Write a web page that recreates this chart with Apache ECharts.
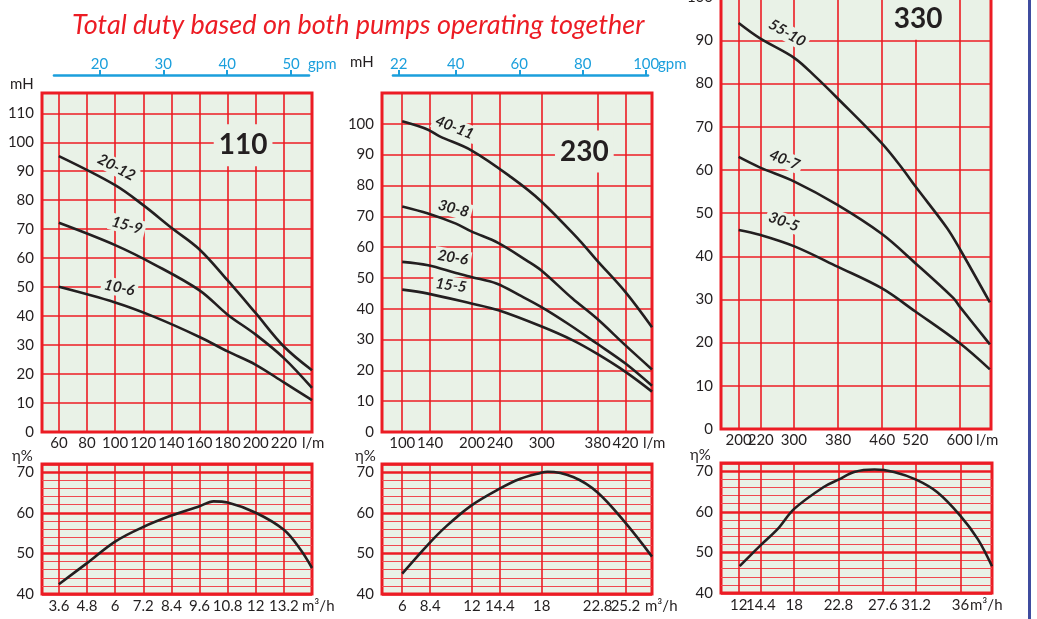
<!DOCTYPE html>
<html>
<head>
<meta charset="utf-8">
<script src="https://cdn.jsdelivr.net/npm/echarts@6/dist/echarts.min.js"></script>
<style>
html, body { margin: 0; padding: 0; background: #fff; }
#chart { width: 1037px; height: 619px; }
</style>
</head>
<body>
<div id="chart"></div>
<script>
// head curves: [l/m, mH]
var h110_20_12 = [[60, 95.2], [100, 85.2], [120, 78.3], [140, 70.5], [160, 63], [180, 52.3], [200, 41], [220, 29.5], [240, 21.3]];
var h110_15_9 = [[60, 72.2], [100, 64.5], [128, 57.8], [160, 48.9], [180, 40.5], [200, 33.6], [220, 25.5], [240, 15.2]];
var h110_10_6 = [[60, 50.1], [100, 44.7], [127, 39.9], [160, 32.8], [180, 27.8], [200, 23.2], [220, 17.1], [240, 11]];

var h230_40_11 = [[100, 100.8], [137, 98.1], [153, 96], [199, 91.4], [256, 82.7], [299, 74.9], [354, 62.2], [379, 55.7], [420, 45.4], [458, 34]];
var h230_30_8 = [[100, 73.2], [137, 70.9], [177, 67.6], [199, 65.1], [238, 61.3], [278, 55.7], [299, 52.5], [344, 43.3], [379, 36.8], [420, 28.1], [458, 20.3]];
var h230_20_6 = [[100, 55.2], [137, 54.1], [177, 51.6], [199, 50.3], [235, 48.2], [268, 44.4], [299, 40.6], [337, 35.2], [379, 28.7], [420, 22.2], [458, 15]];
var h230_15_5 = [[100, 46.2], [137, 44.9], [199, 41.7], [238, 39.5], [299, 34.3], [344, 29.8], [379, 25.4], [420, 19.5], [458, 13.1]];

var h330_55_10 = [[200, 94], [238, 90.5], [301, 85.9], [339, 81.6], [379, 76.6], [459, 66.2], [496, 60.4], [520, 56.2], [577, 46.6], [600, 41.8], [655, 29.3]];
var h330_40_7 = [[200, 63], [238, 60.6], [301, 57.3], [379, 51.9], [459, 45.2], [520, 38.4], [589, 30.3], [600, 28.4], [655, 19.6]];
var h330_30_5 = [[200, 46.1], [238, 45], [301, 42.3], [379, 37.6], [459, 32.6], [520, 27.2], [600, 19.9], [655, 13.8]];

// efficiency curves: [m3/h, %]
var e110 = [[3.6, 42.4], [4.8, 47.6], [6, 52.9], [7.2, 56.5], [8.4, 59.3], [9.6, 61.6], [10.2, 62.8], [10.8, 62.5], [12, 60], [13.2, 55.8], [13.9, 51], [14.4, 46.4]];
var e230 = [[6, 45], [8.2, 52.1], [9.8, 56.7], [11.9, 61.7], [14.3, 65.8], [16.1, 68.3], [17.9, 69.8], [18.5, 70.1], [20.7, 68.8], [22.8, 65], [25.2, 57.5], [27.48, 49.2]];
var e330 = [[12.1, 46.6], [14.3, 51.6], [16.2, 55.7], [18, 60.7], [21.2, 66.1], [22.8, 67.9], [24.5, 69.8], [26.7, 70.4], [28.8, 69.8], [31.2, 67.9], [33.5, 64.8], [36, 59], [37.9, 53.2], [39.42, 46.6]];

// tick values and labels
var lpm110 = [60, 80, 100, 120, 140, 160, 180, 200, 220];
var lpm230 = [100, 140, 200, 240, 300, 380, 420];
var lpm330 = [200, 240, 300, 380, 460, 520, 600];
var lpm330Labels = ['200', '220', '300', '380', '460', '520', '600'];
var cmh110 = [3.6, 4.8, 6, 7.2, 8.4, 9.6, 10.8, 12, 13.2];
var cmh230 = [6, 8.4, 12, 14.4, 18, 22.8, 25.2];
var cmh330 = [12, 14.4, 18, 22.8, 27.6, 31.2, 36];
var gpm110 = [20, 30, 40, 50];
var gpm230 = [22, 40, 60, 80, 100];

var font = 'Lato, "Noto Sans", sans-serif';
var red = '#ec1c24';
var ink = '#231f20';
var paper = '#e9f2e7';
var blue = '#1b9fdc';

function labelText(ticks, labels) {
    return function (v) {
        var i = ticks.indexOf(v);
        return labels && i >= 0 ? labels[i] : String(v);
    };
}

// main flow axis: grid lines on every tick, labels on the inner ticks
function flowAxis(gi, min, max, ticks, labels, unit, gap, pad) {
    return {
        type: 'value', gridIndex: gi, min: min, max: max, position: 'bottom',
        axisLine: {show: false},
        axisTick: {show: false, customValues: ticks},
        axisLabel: {
            customValues: ticks.slice(1, -1), margin: pad, color: ink, fontSize: 15, fontFamily: font,
            hideOverlap: false, showMinLabel: true, showMaxLabel: true,
            formatter: labelText(ticks, labels)
        },
        splitLine: {show: true, lineStyle: {color: red, width: 1.6}},
        name: unit, nameLocation: 'end', nameGap: gap, nameMoveOverlap: false,
        nameTextStyle: {color: ink, fontSize: 15, fontFamily: font, align: 'left', verticalAlign: 'top', padding: [pad, 0, 0, 0]}
    };
}

// second axis on the same grid, only for the first and last labels (v6 hides crowded end labels)
function edgeAxis(gi, min, max, ticks, labels, pad) {
    return {
        type: 'value', gridIndex: gi, min: min, max: max, position: 'bottom',
        axisLine: {show: false},
        axisTick: {show: false, customValues: [ticks[0], ticks[ticks.length - 1]]},
        axisLabel: {
            customValues: [ticks[0], ticks[ticks.length - 1]], margin: pad, color: ink, fontSize: 15, fontFamily: font,
            showMinLabel: true, showMaxLabel: true,
            formatter: labelText(ticks, labels)
        },
        splitLine: {show: false}
    };
}

function gpmAxis(gi, min, max, ticks, gap) {
    return {
        type: 'value', gridIndex: gi, min: min, max: max, position: 'bottom',
        axisLine: {show: true, lineStyle: {color: blue, width: 2.6}},
        axisTick: {show: true, inside: true, length: 5, customValues: ticks, lineStyle: {color: blue, width: 2}},
        axisLabel: {customValues: ticks, inside: true, margin: 3, color: blue, fontSize: 15, fontFamily: font, showMinLabel: true, showMaxLabel: true},
        splitLine: {show: false},
        name: 'gpm', nameLocation: 'end', nameGap: gap, nameMoveOverlap: false,
        nameTextStyle: {color: blue, fontSize: 15, fontFamily: font, align: 'left', verticalAlign: 'bottom', padding: [0, 0, 3, 0]}
    };
}

function headAxis(gi, max) {
    return {
        type: 'value', gridIndex: gi, min: 0, max: max, interval: 10, position: 'left',
        axisLine: {show: false}, axisTick: {show: false},
        axisLabel: {showMinLabel: true, showMaxLabel: false, margin: 8, color: ink, fontSize: 15, fontFamily: font},
        splitLine: {show: true, lineStyle: {color: red, width: 1.6}}
    };
}

function effMinor(gi) {
    return {
        type: 'value', gridIndex: gi, min: 40, max: 72, interval: 2, position: 'left',
        axisLine: {show: false}, axisTick: {show: false}, axisLabel: {show: false},
        splitLine: {show: true, lineStyle: {color: '#ef4a50', width: 1.2}}
    };
}

function effMajor(gi) {
    return {
        type: 'value', gridIndex: gi, min: 40, max: 72, interval: 10, position: 'left',
        axisLine: {show: false}, axisTick: {show: false},
        axisLabel: {showMinLabel: true, showMaxLabel: false, margin: 8, color: ink, fontSize: 15, fontFamily: font},
        splitLine: {show: true, lineStyle: {color: red, width: 2.6}}
    };
}

function hidden(gi) {
    return {type: 'value', gridIndex: gi, min: 0, max: 1, show: false};
}

function tags(items, size, plain) {
    return {
        symbol: 'circle', symbolSize: 1, silent: true,
        itemStyle: {color: 'rgba(0,0,0,0)'},
        label: {
            show: true, position: 'inside', formatter: '{b}', color: ink,
            fontSize: size, fontWeight: 'bold', fontStyle: plain ? 'normal' : 'italic', fontFamily: font,
            backgroundColor: paper, padding: plain ? [7, 5] : [1, 3]
        },
        data: items.map(function (t) {
            return {name: t[0], coord: t[1], label: {rotate: t[2] || 0}};
        })
    };
}

function curve(data, xi, yi, mark) {
    var s = {
        type: 'line', xAxisIndex: xi, yAxisIndex: yi, data: data,
        smooth: 0.35, symbol: 'none', silent: true,
        lineStyle: {color: ink, width: 2.6}
    };
    if (mark) s.markPoint = mark;
    return s;
}

var gridBase = {show: true, backgroundColor: paper, borderColor: red, borderWidth: 3, containLabel: false, outerBoundsMode: 'none'};
function g(l, t, w, h) {
    return Object.assign({}, gridBase, {left: l, top: t, width: w, height: h});
}
function line(l, t, w) {
    return {show: false, left: l, top: t, width: w, height: 1, outerBoundsMode: 'none'};
}

var option = {
    animation: false,
    grid: [
        g(42, 93, 270, 339), g(42, 464, 270, 130), line(54, 74, 255),
        g(382, 93, 270, 339), g(382, 464, 270, 130), line(393, 74, 255),
        g(721, -46, 270, 475), g(721, 463, 271, 130)
    ],
    xAxis: [
        flowAxis(0, 48, 240, lpm110, null, 'l/m', -10, 4),
        flowAxis(1, 2.88, 14.4, cmh110, null, 'm³/h', -10, 5),
        gpmAxis(2, 12.9, 52.8, gpm110, -1),
        flowAxis(3, 71, 458, lpm230, null, 'l/m', -9, 4),
        flowAxis(4, 4.26, 27.48, cmh230, null, 'm³/h', -7, 5),
        gpmAxis(5, 20.2, 100.57, gpm230, 10),
        flowAxis(6, 168, 657, lpm330, lpm330Labels, 'l/m', -15, 4),
        flowAxis(7, 10.08, 39.42, cmh330, null, 'm³/h', -22, 5),
        // edge labels
        edgeAxis(0, 48, 240, lpm110, null, 4),
        edgeAxis(1, 2.88, 14.4, cmh110, null, 5),
        edgeAxis(3, 71, 458, lpm230, null, 4),
        edgeAxis(4, 4.26, 27.48, cmh230, null, 5),
        edgeAxis(6, 168, 657, lpm330, lpm330Labels, 4),
        edgeAxis(7, 10.08, 39.42, cmh330, null, 5)
    ],
    yAxis: [
        headAxis(0, 117), effMinor(1), effMajor(1), hidden(2),
        headAxis(3, 110), effMinor(4), effMajor(4), hidden(5),
        headAxis(6, 110), effMinor(7), effMajor(7)
    ],
    series: [
        curve(h110_20_12, 0, 0, tags([['20-12', [101, 91.3], -28], ['15-9', [108.5, 71.3], -15], ['10-6', [103, 49.8], -12]], 15)),
        curve(h110_15_9, 0, 0),
        curve(h110_10_6, 0, 0, tags([['110', [191, 99]]], 28, true)),
        curve(e110, 1, 2),

        curve(h230_40_11, 3, 4, tags([['40-11', [175, 98.8], -22], ['30-8', [173.5, 72.5], -15], ['20-6', [172.5, 56.6], -10], ['15-5', [170, 47.6], -8]], 15)),
        curve(h230_30_8, 3, 4),
        curve(h230_20_6, 3, 4),
        curve(h230_15_5, 3, 4, tags([['230', [361, 91]]], 28, true)),
        curve(e230, 4, 6),

        curve(h330_55_10, 6, 8, tags([['55-10', [288, 91.7], -30], ['40-7', [283, 62.3], -22], ['30-5', [282, 48], -20]], 15)),
        curve(h330_40_7, 6, 8),
        curve(h330_30_5, 6, 8, tags([['330', [525, 95]]], 28, true)),
        curve(e330, 7, 10)
    ],
    graphic: [
        {type: 'text', left: 72, top: 12, style: {text: 'Total duty based on both pumps operating together', fill: red, font: 'italic 27px ' + font}},
        {type: 'text', left: 10, top: 77, style: {text: 'mH', fill: ink, font: '15px ' + font}},
        {type: 'text', left: 350, top: 55, style: {text: 'mH', fill: ink, font: '15px ' + font}},
        {type: 'text', left: 12, top: 449, style: {text: 'η%', fill: ink, font: '15px ' + font}},
        {type: 'text', left: 355, top: 449, style: {text: 'η%', fill: ink, font: '15px ' + font}},
        {type: 'text', left: 690, top: 448, style: {text: 'η%', fill: ink, font: '15px ' + font}},
        {type: 'rect', left: 1028, top: 0, shape: {width: 3, height: 619}, style: {fill: '#3f4c9f'}}
    ]
};

var chart = echarts.init(document.getElementById('chart'), null, {renderer: 'canvas'});
chart.setOption(option);
</script>
</body>
</html>
